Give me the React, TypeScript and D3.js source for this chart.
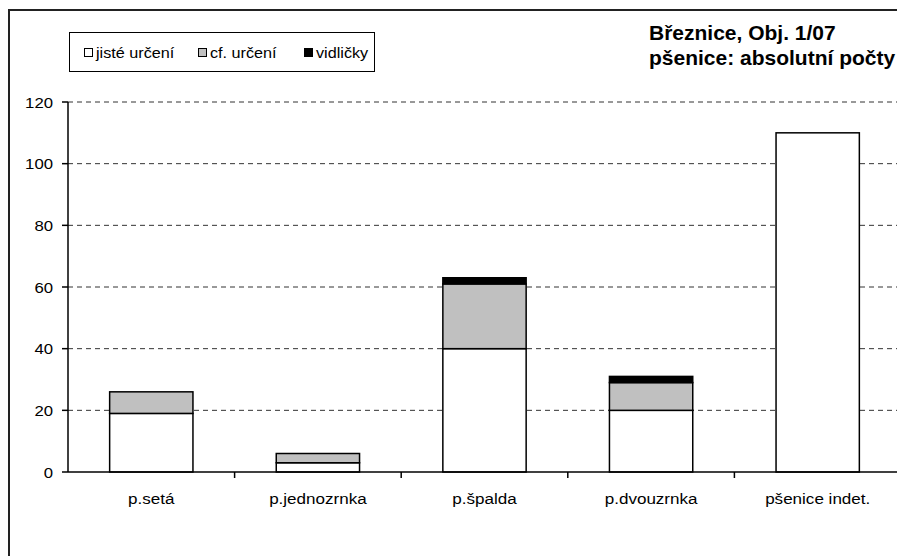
import React, { useEffect, useRef } from 'react';
import * as d3 from 'd3';

const categories = ['p.setá', 'p.jednozrnka', 'p.špalda', 'p.dvouzrnka', 'pšenice indet.'];
const jiste = [19, 3, 40, 20, 110];
const cf = [7, 3, 21, 9, 0];
const vidlicky = [0, 0, 2, 2, 0];
const seriesNames = ['jisté určení', 'cf. určení', 'vidličky'];
const seriesColors = ['#ffffff', '#c0c0c0', '#000000'];
const yTicks = [0, 20, 40, 60, 80, 100, 120];
const titleLines = ['Březnice, Obj. 1/07', 'pšenice: absolutní počty'];

const W = 897, H = 556;

function stretchedText(g: any, x: number, y: number, txt: string, size: number, anchor: string, sx: number, weight = 'normal') {
  g.append('text')
    .attr('transform', 'translate(' + x + ',' + y + ') scale(' + sx + ',1)')
    .attr('text-anchor', anchor)
    .attr('font-size', size)
    .attr('font-weight', weight)
    .attr('fill', '#000')
    .text(txt);
}

export default function App() {
  const ref = useRef<SVGSVGElement>(null);

  useEffect(() => {
    const svg = d3.select(ref.current);
    svg.selectAll('*').remove();
    svg.attr('font-family', 'Liberation Sans, Arial, sans-serif');

    // outer frame
    svg.append('rect')
      .attr('x', 9).attr('y', 10).attr('width', 920).attr('height', 620)
      .attr('fill', '#fff').attr('stroke', '#222').attr('stroke-width', 2);

    const x = d3.scaleBand<string>()
      .domain(categories)
      .range([68, 901])
      .paddingInner(0.5)
      .paddingOuter(0.25);

    const y = d3.scaleLinear().domain([0, 120]).range([472, 102]);

    // gridlines
    svg.append('g').selectAll('line')
      .data(yTicks.filter((t) => t > 0))
      .join('line')
      .attr('x1', 68).attr('x2', W)
      .attr('y1', (d) => y(d)).attr('y2', (d) => y(d))
      .attr('stroke', '#333').attr('stroke-width', 1)
      .attr('stroke-dasharray', '5,4');

    // stacked bars
    const rows = categories.map((c, i) => ({ cat: c, s0: jiste[i], s1: cf[i], s2: vidlicky[i] }));
    const stacked = d3.stack<any>().keys(['s0', 's1', 's2'])(rows);

    stacked.forEach((layer, li) => {
      svg.append('g').selectAll('rect')
        .data(layer.filter((d) => d[1] - d[0] > 0))
        .join('rect')
        .attr('x', (d: any) => x(d.data.cat)!)
        .attr('width', x.bandwidth())
        .attr('y', (d) => y(d[1]))
        .attr('height', (d) => y(d[0]) - y(d[1]))
        .attr('fill', seriesColors[li])
        .attr('stroke', '#000')
        .attr('stroke-width', 1.5);
    });

    // y axis
    const ya = svg.append('g');
    ya.append('line').attr('x1', 68).attr('x2', 68).attr('y1', y(120)).attr('y2', y(0))
      .attr('stroke', '#000').attr('stroke-width', 1.5);
    yTicks.forEach((t) => {
      ya.append('line').attr('x1', 62).attr('x2', 68).attr('y1', y(t)).attr('y2', y(t))
        .attr('stroke', '#000').attr('stroke-width', 1.5);
      stretchedText(ya, 53, y(t) + 5.5, String(t), 15.5, 'end', 1.08);
    });

    // x axis
    const xa = svg.append('g');
    xa.append('line').attr('x1', 68).attr('x2', W).attr('y1', y(0)).attr('y2', y(0))
      .attr('stroke', '#000').attr('stroke-width', 1.5);
    categories.forEach((c, i) => {
      const edge = x(c)! - x.step() * x.paddingOuter();
      if (i > 0) {
        xa.append('line').attr('x1', edge).attr('x2', edge).attr('y1', y(0)).attr('y2', y(0) + 6)
          .attr('stroke', '#000').attr('stroke-width', 1.5);
      }
      stretchedText(xa, x(c)! + x.bandwidth() / 2, 504, c, 15.5, 'middle', 1.1);
    });

    // legend
    const lg = svg.append('g');
    lg.append('rect').attr('x', 69.5).attr('y', 32.5).attr('width', 305).attr('height', 39)
      .attr('fill', '#fff').attr('stroke', '#000').attr('stroke-width', 1);
    const legendX = [84, 198, 304];
    seriesNames.forEach((n, i) => {
      lg.append('rect').attr('x', legendX[i] + 0.5).attr('y', 48.5).attr('width', 8).attr('height', 8)
        .attr('fill', seriesColors[i]).attr('stroke', '#000').attr('stroke-width', 1);
      stretchedText(lg, legendX[i] + 12, 57.5, n, 15, 'start', 1.08);
    });

    // title
    titleLines.forEach((t, i) => {
      stretchedText(svg, 649, 40 + i * 25, t, 20, 'start', 1.05, 'bold');
    });
  }, []);

  return (
    <svg ref={ref} width={W} height={H}
      style={{ position: 'absolute', left: 0, top: 0, display: 'block', background: '#fff' }} />
  );
}
